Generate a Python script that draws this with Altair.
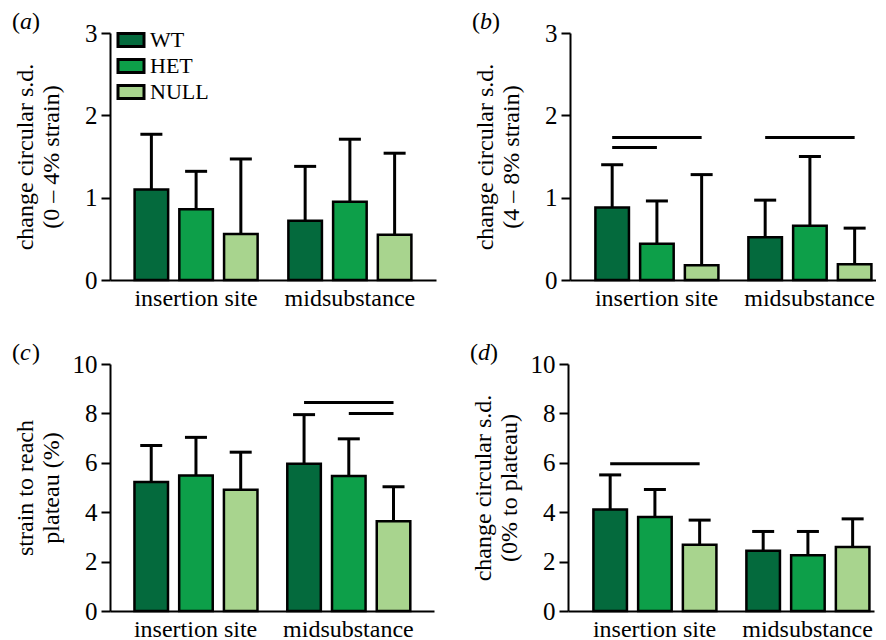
import altair as alt
import pandas as pd

FONT = "Liberation Serif"

sites = ["insertion site", "midsubstance"]
genotypes = ["WT", "HET", "NULL"]
colors = ["#046a3d", "#0d9f49", "#a8d48e"]

# means and upper error-bar ends, order: site x genotype
a_mean = [1.10, 0.86, 0.56, 0.72, 0.95, 0.55]
a_err = [1.77, 1.32, 1.47, 1.38, 1.71, 1.54]
b_mean = [0.88, 0.44, 0.18, 0.52, 0.66, 0.19]
b_err = [1.40, 0.96, 1.28, 0.97, 1.50, 0.63]
c_mean = [5.22, 5.49, 4.91, 5.96, 5.47, 3.63]
c_err = [6.70, 7.03, 6.43, 7.95, 6.97, 5.03]
d_mean = [4.11, 3.81, 2.68, 2.44, 2.26, 2.59]
d_err = [5.51, 4.92, 3.68, 3.22, 3.22, 3.73]

# significance bars: (site, from genotype, to genotype, level)
a_sig = []
b_sig = [("insertion site", "WT", "NULL", 1.73),
         ("insertion site", "WT", "HET", 1.61),
         ("midsubstance", "WT", "NULL", 1.73)]
c_sig = [("midsubstance", "WT", "NULL", 8.44),
         ("midsubstance", "HET", "NULL", 8.0)]
d_sig = [("insertion site", "WT", "NULL", 5.96)]

letters = ["a", "b", "c", "d"]
y_titles = [["change circular s.d.", "(0 – 4% strain)"],
            ["change circular s.d.", "(4 – 8% strain)"],
            ["strain to reach", "plateau (%)"],
            ["change circular s.d.", "(0% to plateau)"]]
y_max = [3, 3, 10, 10]
y_ticks = [[0, 1, 2, 3], [0, 1, 2, 3], [0, 2, 4, 6, 8, 10], [0, 2, 4, 6, 8, 10]]

H = 247


def make_panel(i, mean, err, sig, width, po, align, show_legend):
    df = pd.DataFrame({
        "site": [s for s in sites for g in genotypes],
        "genotype": genotypes * 2,
        "mean": mean,
        "err": err,
    })
    x = alt.X("site:N", sort=sites,
              scale=alt.Scale(paddingInner=0.2, paddingOuter=po, align=align),
              axis=alt.Axis(title=None, labelAngle=0, ticks=False, labelPadding=6,
                            labelFont=FONT, labelFontSize=24, labelColor="black",
                            domainColor="black", domainWidth=2))
    xo = alt.XOffset("genotype:N", sort=genotypes,
                     scale=alt.Scale(paddingInner=0.25, paddingOuter=0))

    def yenc(field):
        return alt.Y(field, type="quantitative",
                     scale=alt.Scale(domain=[0, y_max[i]], nice=False, zero=True),
                     axis=alt.Axis(values=y_ticks[i], title=y_titles[i], grid=False,
                                   tickSize=9, tickWidth=2, tickColor="black",
                                   domainColor="black", domainWidth=2,
                                   labelFont=FONT, labelFontSize=25, labelColor="black",
                                   labelPadding=4,
                                   titleFont=FONT, titleFontSize=24, titleFontWeight="normal",
                                   titleColor="black", titleLineHeight=26,
                                   titleX=-73, titleY=H / 2, titleAngle=270,
                                   titleAlign="center", titleBaseline="bottom"))

    if show_legend:
        leg = alt.Legend(orient="none", legendX=10, legendY=-4, title=None,
                         symbolType="M-2,-1H2V1H-2Z", symbolSize=169,
                         symbolStrokeColor="black", symbolStrokeWidth=3,
                         symbolOpacity=1,
                         labelFont=FONT, labelFontSize=22, labelColor="black",
                         rowPadding=0, labelOffset=8, padding=0)
    else:
        leg = None

    base = alt.Chart(df)
    bars = base.mark_bar(stroke="black", strokeWidth=2.5, opacity=1).encode(
        x=x, xOffset=xo, y=yenc("mean"),
        color=alt.Color("genotype:N", sort=genotypes,
                        scale=alt.Scale(domain=genotypes, range=colors),
                        legend=leg))
    rules = base.mark_rule(color="black", strokeWidth=3).encode(
        x=x, xOffset=xo, y=yenc("mean"), y2="err:Q")
    caps = base.mark_tick(color="black", size=22, thickness=3, opacity=1).encode(
        x=x, xOffset=xo, y=yenc("err"))
    layers = [rules, caps, bars]

    if sig:
        rows = []
        for k, (s, g1, g2, lv) in enumerate(sig):
            rows.append({"id": k, "site": s, "genotype": g1, "level": lv})
            rows.append({"id": k, "site": s, "genotype": g2, "level": lv})
        sdf = pd.DataFrame(rows)
        lines = alt.Chart(sdf).mark_line(color="black", strokeWidth=3).encode(
            x=x, xOffset=xo, y=yenc("level"), detail="id:N")
        layers.append(lines)

    lp = alt.Chart(pd.DataFrame({"t": ["("]})).mark_text(
        font=FONT, fontSize=24, align="left", baseline="alphabetic", color="black"
    ).encode(x=alt.value(-98), y=alt.value(-4), text="t:N")
    ll = alt.Chart(pd.DataFrame({"t": [letters[i]]})).mark_text(
        font=FONT, fontSize=24, fontStyle="italic", align="left", baseline="alphabetic",
        color="black"
    ).encode(x=alt.value(-90), y=alt.value(-4), text="t:N")
    rp = alt.Chart(pd.DataFrame({"t": [")"]})).mark_text(
        font=FONT, fontSize=24, align="left", baseline="alphabetic", color="black"
    ).encode(x=alt.value(-78), y=alt.value(-4), text="t:N")
    layers += [lp, ll, rp]

    return alt.layer(*layers).properties(
        width=width, height=H, view=alt.ViewConfig(stroke="transparent", strokeWidth=0))


pa = make_panel(0, a_mean, a_err, a_sig, 326, 0.16, 0.5, True)
pb = make_panel(1, b_mean, b_err, b_sig, 306, 0.10, 0.83, False)
pc = make_panel(2, c_mean, c_err, c_sig, 324, 0.16, 0.5, False)
pd_ = make_panel(3, d_mean, d_err, d_sig, 306, 0.10, 0.83, False)

top = alt.hconcat(pa, pb, spacing=36).resolve_scale(color="independent").resolve_legend(color="independent")
bottom = alt.hconcat(pc, pd_, spacing=36).resolve_scale(color="independent").resolve_legend(color="independent")

chart = alt.vconcat(top, bottom, spacing=31).resolve_scale(
    color="independent").resolve_legend(color="independent").properties(
    padding={"left": 4, "top": 2, "right": 0, "bottom": 0}
).configure_view(stroke="transparent", strokeWidth=0).configure(background="white")

chart.save("out.html", embed_options={"renderer": "svg", "actions": False})
